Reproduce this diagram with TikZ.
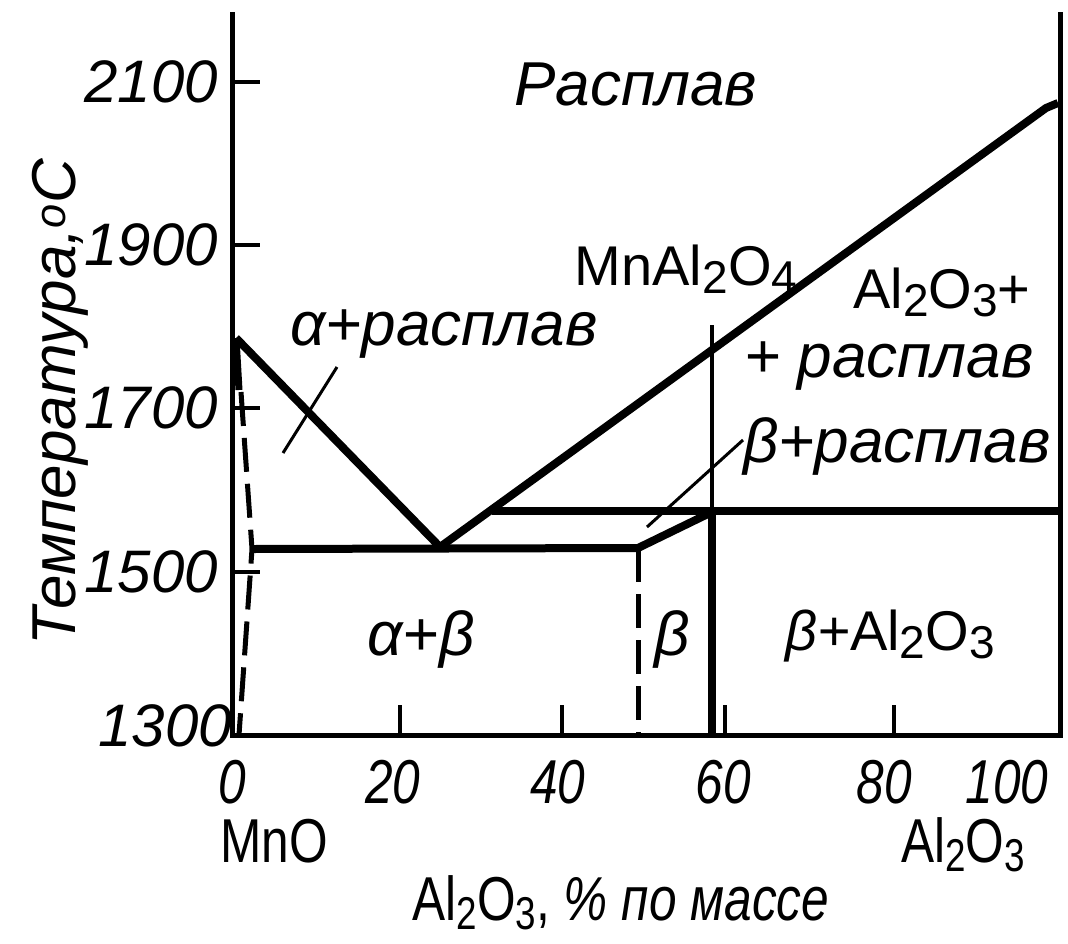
\documentclass[tikz,border=0pt]{standalone}
\usepackage{fontspec}
\setmainfont{Liberation Sans}
\newfontfamily\narrowfont[FakeStretch=0.8]{Liberation Sans}
\newcommand{\dn}[1]{\raisebox{-0.3ex}{\fontsize{46}{46}\selectfont #1}}
\usetikzlibrary{positioning}

\begin{document}
\begin{tikzpicture}[
  x=1pt, y=-1pt,
  axis/.style={line width=5pt},
  phase/.style={line width=8pt, line join=round},
  thinline/.style={line width=4pt},
  pointer/.style={line width=3pt},
  dsh/.style={line width=5pt, dash pattern=on 34pt off 12pt},
  tickmark/.style={line width=4pt},
  lbl/.style={font=\fontsize{62}{70}\selectfont\itshape, inner sep=0pt, anchor=base},
  upl/.style={font=\fontsize{56}{64}\selectfont, inner sep=0pt, anchor=base},
  ynum/.style={font=\fontsize{60}{66}\selectfont\itshape, inner sep=0pt, anchor=east},
  xnum/.style={font=\narrowfont\fontsize{62}{70}\selectfont\itshape, inner sep=0pt, anchor=base},
  xlbl/.style={font=\narrowfont\fontsize{62}{70}\selectfont, inner sep=0pt, anchor=base},
]
  \useasboundingbox (0,0) rectangle (1068,943);

  \coordinate (mpA)  at (236,338);
  \coordinate (eut)  at (440,547);
  \coordinate (aEnd) at (252,549);
  \coordinate (bEnd) at (638,548);
  \coordinate (sp)   at (712,512);
  \coordinate (peri) at (492,511);
  \coordinate (mpB)  at (1058,103);
  \coordinate (spTop) at (712,325);
  \coordinate (spBot) at (712,735);

  \draw[axis] (232,12) -- (232,735) -- (1060,735) -- (1060,12);

  \foreach \y/\t in {82/2100, 245/1900, 408/1700, 572/1500}{
    \draw[tickmark] (232,\y) -- ++(28,0);
    \node[ynum] (y\t) at (218,\y) {\t};
  }
  \node[ynum] (y1300) at (232,726) {1300};
  \foreach \x in {400,562,725,894}
    \draw[tickmark] (\x,735) -- ++(0,-30);
  \foreach \x/\t in {232/0, 393/20, 558/40, 723/60, 884/80, 1007/100}
    \node[xnum] (x\t) at (\x,803) {\t};

  \draw[phase] (mpA) -- (eut) -- (1046,108) -- (mpB);
  \draw[phase] (aEnd) -- (bEnd) -- (sp);
  \draw[phase] (peri) -- (1060,511);
  \draw[thinline] (spTop) -- (sp);
  \draw[phase] (sp) -- (spBot);
  \draw[line width=7pt] (mpA) -- (239,390);
  \draw[dsh] (241,392) -- (aEnd) -- (239,735);
  \draw[dsh] (bEnd) -- (638,735);

  \coordinate (aPtrA) at (337,367);
  \coordinate (aPtrB) at (283,453);
  \coordinate (bPtrA) at (743,440);
  \coordinate (bPtrB) at (647,527);
  \draw[pointer] (aPtrA) -- (aPtrB);
  \draw[pointer] (bPtrA) -- (bPtrB);

  \node[lbl] (melt)  at (636,105) {Расплав};
  \node[lbl] (amelt) at (444,345) {α+расплав};
  \node[upl] (spin)  at (686,285) {MnAl\dn{2}O\dn{4}};
  \node[upl] (alm1)  at (942,308) {Al\dn{2}O\dn{3}+};
  \node[lbl] (alm2)  at (889,377) {+ расплав};
  \node[lbl] (bmelt) at (897,462) {β+расплав};
  \node[lbl] (ab)    at (421,655) {α+β};
  \node[lbl] (b)     at (672,655) {β};
  \node[upl] (bal)   at (890,650) {{\itshape β+}Al\dn{2}O\dn{3}};

  \node[lbl, rotate=90] (temp) at (75,402) {Температура,\textsuperscript{o}C};
  \node[xlbl] (mno)  at (274,862) {MnO};
  \node[xlbl] (alo)  at (963,862) {Al\dn{2}O\dn{3}};
  \node[xlbl] (xttl) at (621,920) {Al\dn{2}O\dn{3}, {\itshape \% по массе}};
\end{tikzpicture}
\end{document}
